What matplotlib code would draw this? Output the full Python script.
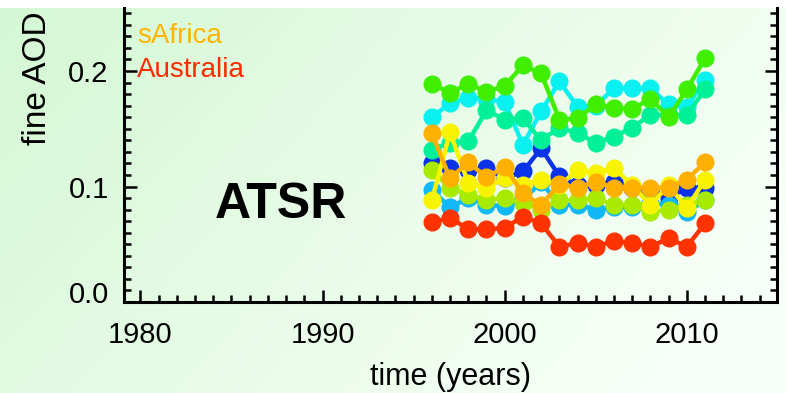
import numpy as np
import matplotlib
matplotlib.use('Agg')
import matplotlib.pyplot as plt
from matplotlib.ticker import FixedLocator, MultipleLocator
from matplotlib.transforms import ScaledTranslation

plt.rcParams['font.family'] = ['Liberation Sans', 'DejaVu Sans']

years = np.arange(1996, 2012)

# fine-mode AOD per region (jet colour order, blue -> red)
aod_blue = [0.120, 0.116, 0.114, 0.116, 0.107, 0.113, 0.133, 0.109,
            0.101, 0.101, 0.104, 0.099, 0.097, 0.090, 0.099, 0.099]
aod_ltblue = [0.097, 0.082, 0.090, 0.084, 0.083, 0.088, 0.104, 0.084,
              0.084, 0.080, 0.082, 0.082, 0.086, 0.084, 0.078, 0.088]
aod_cyan = [0.160, 0.172, 0.177, 0.176, 0.173, 0.136, 0.165, 0.191,
            0.169, 0.170, 0.185, 0.185, 0.185, 0.171, 0.169, 0.192]
aod_aqua = [0.132, 0.138, 0.139, 0.166, 0.158, 0.159, 0.140, 0.151,
            0.146, 0.138, 0.143, 0.151, 0.162, 0.162, 0.162, 0.184]
aod_green = [0.189, 0.181, 0.189, 0.182, 0.187, 0.205, 0.198, 0.158,
             0.159, 0.171, 0.168, 0.167, 0.176, 0.160, 0.184, 0.211]
aod_ygreen = [0.114, 0.099, 0.093, 0.088, 0.090, 0.086, 0.080, 0.088,
              0.088, 0.090, 0.084, 0.084, 0.078, 0.080, 0.084, 0.088]
aod_yellow = [0.088, 0.147, 0.103, 0.099, 0.107, 0.101, 0.106, 0.101,
              0.114, 0.112, 0.116, 0.101, 0.084, 0.101, 0.081, 0.106]
aod_safrica = [0.146, 0.107, 0.121, 0.108, 0.117, 0.094, 0.084, 0.102,
               0.099, 0.104, 0.099, 0.099, 0.099, 0.099, 0.106, 0.121]
aod_australia = [0.069, 0.073, 0.063, 0.063, 0.064, 0.074, 0.068, 0.048,
                 0.051, 0.048, 0.053, 0.051, 0.048, 0.055, 0.048, 0.068]

series = [
    (aod_blue, '#0a32e6'),
    (aod_ltblue, '#10b8f8'),
    (aod_cyan, '#08f0f0'),
    (aod_aqua, '#00f09a'),
    (aod_green, '#40ee00'),
    (aod_ygreen, '#a8ea00'),
    (aod_yellow, '#f8f400'),
    (aod_safrica, '#ffb000'),
    (aod_australia, '#ff3300'),
]

W, H = 786, 393
fig = plt.figure(figsize=(W / 100, H / 100), dpi=100)
fig.patch.set_facecolor('white')

# background gradient (light green -> almost white), white strip on top
top_px = 8
bg = fig.add_axes([0, 0, 1, 1 - top_px / H], zorder=-5)
gx, gy = np.meshgrid(np.linspace(0, 1, 200), np.linspace(0, 1, 100))
t = np.clip(0.8 * gx + 0.35 * gy, 0, 1)
c0 = np.array([212, 248, 212]) / 255
c1 = np.array([248, 255, 248]) / 255
img = c0[None, None, :] + (c1 - c0)[None, None, :] * t[..., None]
bg.imshow(img, aspect='auto', extent=(0, 1, 0, 1), origin='upper')
bg.axis('off')

x0, x1, ybot, ytop = 124, 777, 302, top_px
ax = fig.add_axes([x0 / W, (H - ybot) / H, (x1 - x0) / W, (ybot - ytop) / H])
ax.set_facecolor('none')

for vals, col in series:
    ax.plot(years, vals, '-o', color=col, lw=3.2, ms=12, mec=col, clip_on=False)

px_per_unit = 1155.0
ax.set_xlim(1979.1, 2014.95)
ax.set_ylim(0, (ybot - ytop) / px_per_unit)

ax.xaxis.set_major_locator(FixedLocator([1980, 1990, 2000, 2010]))
ax.xaxis.set_minor_locator(MultipleLocator(1))
ax.yaxis.set_major_locator(FixedLocator([0.0, 0.1, 0.2]))
ax.yaxis.set_minor_locator(MultipleLocator(0.01))
ax.set_yticklabels(['0.0', '0.1', '0.2'])

ax.tick_params(axis='both', which='both', direction='in', color='black',
               labelsize=21, width=1.8)
ax.tick_params(axis='both', which='major', length=9)
ax.tick_params(axis='both', which='minor', length=5)
ax.tick_params(axis='y', which='both', right=True, pad=11)
ax.tick_params(axis='x', which='both', pad=14)

# raise the "0.0" label a little, as in the original
lbl0 = ax.yaxis.get_major_ticks()[0].label1
lbl0.set_transform(lbl0.get_transform() + ScaledTranslation(0, 7 / 72, fig.dpi_scale_trans))

for side in ['left', 'right', 'bottom']:
    ax.spines[side].set_linewidth(2.2)
ax.spines['top'].set_visible(False)

ax.set_xlabel('time (years)', fontsize=22)
ax.xaxis.set_label_coords(0.5, -0.205)
ax.set_ylabel('fine AOD', fontsize=24)
ax.yaxis.set_label_coords(-0.108, 0.76)

ax.text(0.02, 0.905, 'sAfrica', transform=ax.transAxes, color='#ffb400',
        fontsize=20, va='center', ha='left')
ax.text(0.02, 0.79, 'Australia', transform=ax.transAxes, color='#ff2a00',
        fontsize=20, va='center', ha='left')
ax.text(0.241, 0.33, 'ATSR', transform=ax.transAxes, color='black',
        fontsize=36, fontweight='bold', va='center', ha='center')

fig.savefig('out.png', dpi=100)
